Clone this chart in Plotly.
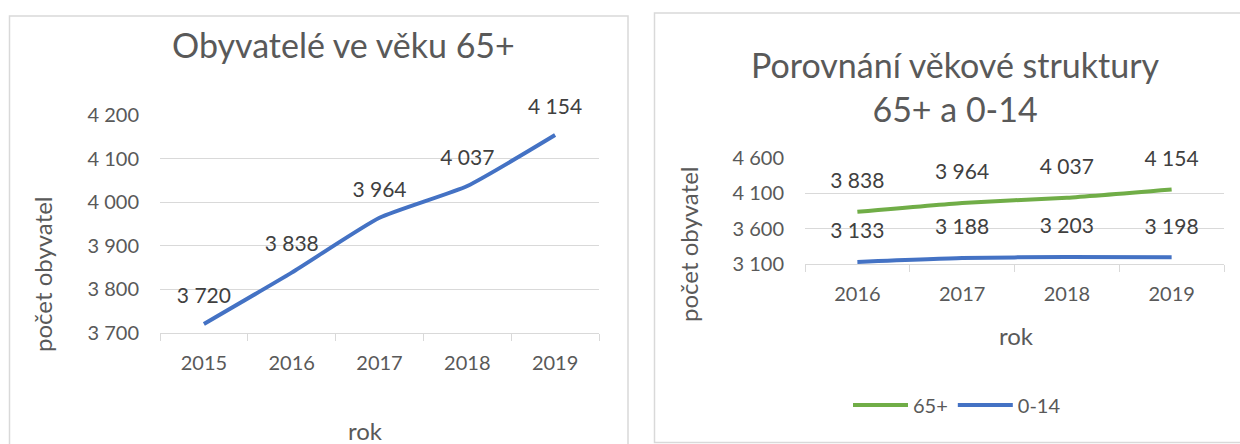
import plotly.graph_objects as go

# ─── data ────────────────────────────────────
roky_65 = ["2015", "2016", "2017", "2018", "2019"]
obyv_65 = [3720, 3838, 3964, 4037, 4154]

roky_cmp = ["2016", "2017", "2018", "2019"]
cmp_65 = [3838, 3964, 4037, 4154]
cmp_014 = [3133, 3188, 3203, 3198]

BLUE = "#4472C4"
GREEN = "#70AD47"
GRAY = "#595959"
GRID = "#D9D9D9"
FONT = "Lato"

W, H = 1240, 444


def px_x(v):
    return v / W


def px_y(v):
    return 1 - v / H


def serie(x, y, color, name=None, xa="x", ya="y", mk=28):
    return go.Scatter(
        x=x, y=y, name=name,
        mode="lines+markers+text",
        line=dict(color=color, width=4, shape="spline", smoothing=0.5),
        marker=dict(size=mk, color="rgba(0,0,0,0)"),
        texttemplate="%{y:,d}", textposition="top center",
        textfont=dict(size=21, color="#404040", family=FONT),
        cliponaxis=False, showlegend=name is not None,
        xaxis=xa, yaxis=ya,
    )


fig = go.Figure()
fig.add_trace(serie(roky_65, obyv_65, BLUE, mk=24))
fig.add_trace(serie(roky_cmp, cmp_65, GREEN, name="65+", xa="x2", ya="y2"))
fig.add_trace(serie(roky_cmp, cmp_014, BLUE, name="0-14", xa="x2", ya="y2"))

xcommon = dict(
    type="category", tickson="boundaries", ticks="outside", ticklen=7,
    tickcolor=GRID, tickwidth=1.3, showline=True, linecolor=GRID, linewidth=1.3,
    showgrid=False, zeroline=False, ticklabelstandoff=12, automargin=False,
    tickfont=dict(size=20, color=GRAY, family=FONT),
)
ycommon = dict(
    showgrid=True, gridcolor=GRID, gridwidth=1.3, zeroline=False, automargin=False,
    showline=False, ticks="", tickformat=",d", ticklabelstandoff=20,
    tickfont=dict(size=20, color=GRAY, family=FONT),
)

ann = dict(xref="paper", yref="paper", showarrow=False, xanchor="center", yanchor="middle")

fig.update_layout(
    width=W, height=H,
    margin=dict(l=0, r=0, t=0, b=0, pad=0, autoexpand=False),
    paper_bgcolor="white", plot_bgcolor="white",
    separators=", ",
    font=dict(family=FONT, color=GRAY),
    xaxis=dict(domain=[px_x(160), px_x(599)], range=[-0.5, 4.5], anchor="y", **xcommon),
    yaxis=dict(domain=[px_y(332.7), px_y(115)], range=[3700, 4200], tick0=3700, dtick=100,
               anchor="x", **ycommon),
    xaxis2=dict(domain=[px_x(805), px_x(1224)], range=[-0.5, 3.5], anchor="y2", **xcommon),
    yaxis2=dict(domain=[px_y(264.3), px_y(157.7)], range=[3100, 4600], tick0=3100, dtick=500,
                anchor="x2", **ycommon),
    showlegend=True,
    legend=dict(
        orientation="h", x=px_x(957), xanchor="center", y=px_y(405), yanchor="middle",
        font=dict(size=20, color=GRAY, family=FONT), bgcolor="rgba(0,0,0,0)",
        itemwidth=55,
    ),
    shapes=[
        dict(type="rect", xref="paper", yref="paper",
             x0=px_x(9.5), x1=px_x(628), y0=px_y(470), y1=px_y(16),
             line=dict(color=GRID, width=1.5)),
        dict(type="rect", xref="paper", yref="paper",
             x0=px_x(654.5), x1=px_x(1260), y0=px_y(442.5), y1=px_y(13),
             line=dict(color=GRID, width=1.5)),
    ],
    annotations=[
        dict(text="Obyvatelé ve věku 65+", x=px_x(343), y=px_y(45),
             font=dict(size=34, color=GRAY, family=FONT), **ann),
        dict(text="Porovnání věkové struktury<br>65+ a 0-14", x=px_x(955), y=px_y(86),
             font=dict(size=34, color=GRAY, family=FONT), **ann),
        dict(text="rok", x=px_x(365), y=px_y(430),
             font=dict(size=24, color=GRAY, family=FONT), **ann),
        dict(text="rok", x=px_x(1016), y=px_y(335),
             font=dict(size=24, color=GRAY, family=FONT), **ann),
        dict(text="počet obyvatel", x=px_x(42), y=px_y(274), textangle=-90,
             font=dict(size=24, color=GRAY, family=FONT), **ann),
        dict(text="počet obyvatel", x=px_x(688), y=px_y(244), textangle=-90,
             font=dict(size=24, color=GRAY, family=FONT), **ann),
    ],
)

# bez okraje stránky a bez lišty nástrojů
fig.write_html("out.html", config={"displayModeBar": False},
               post_script="document.body.style.margin='0';")
